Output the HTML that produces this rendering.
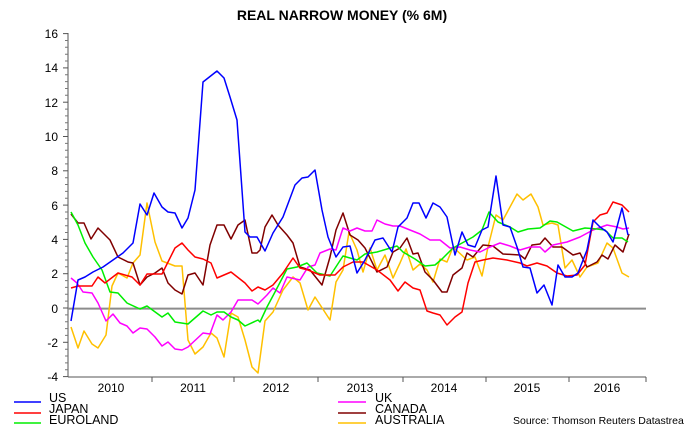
<!DOCTYPE html>
<html><head><meta charset="utf-8"><style>
body{margin:0;background:#fff;}
svg{display:block;font-family:"Liberation Sans",Arial,sans-serif;}
</style></head><body>
<svg width="684" height="430" viewBox="0 0 684 430" xmlns="http://www.w3.org/2000/svg">
<rect width="684" height="430" fill="#fff"/>
<text x="342" y="20" text-anchor="middle" font-size="14" font-weight="bold">REAL NARROW MONEY (% 6M)</text>
<g id="yt" stroke="#555" stroke-width="1"></g>
<line x1="68" y1="33" x2="68" y2="377" stroke="#555"/>
<line x1="68" y1="377" x2="646" y2="377" stroke="#555"/>
<g stroke="#555"><line x1="152" y1="377" x2="152" y2="382"/><line x1="234" y1="377" x2="234" y2="382"/><line x1="318" y1="377" x2="318" y2="382"/><line x1="403" y1="377" x2="403" y2="382"/><line x1="486" y1="377" x2="486" y2="382"/><line x1="569" y1="377" x2="569" y2="382"/><line x1="646" y1="377" x2="646" y2="382"/></g>
<line x1="68" y1="308.6" x2="646" y2="308.6" stroke="#8c8c8c" stroke-width="2"/>
<g font-size="12" text-anchor="end">
<text x="58" y="38">16</text><text x="58" y="72">14</text><text x="58" y="107">12</text><text x="58" y="141">10</text><text x="58" y="175">8</text><text x="58" y="210">6</text><text x="58" y="244">4</text><text x="58" y="278">2</text><text x="58" y="313">0</text><text x="58" y="347">-2</text><text x="58" y="381">-4</text>
</g>
<g font-size="12" text-anchor="middle">
<text x="111" y="392">2010</text><text x="193" y="392">2011</text><text x="276" y="392">2012</text><text x="360" y="392">2013</text><text x="444" y="392">2014</text><text x="527" y="392">2015</text><text x="607" y="392">2016</text>
</g>
<g fill="none" stroke-width="1.5" stroke-linejoin="round">
<polyline stroke="#ffc000" points="71,327 78,348 84,331 92,344 98,348 106,335 112,286 118,273 127,278 133,263 140,255 147,203 155,242 162,261 175,266 182,266 188,340 195,354 203,347 211,333 217,338 224,357 231,313 238,317 245,340 252,367 258,373 265,321 273,312 283,290 293,277 300,283 308,310 315,297 330,320 336,282 343,270 349,232 357,250 363,272 370,248 377,270 385,255 393,278 400,263 406,249 413,270 420,264 427,270 433,282 440,259 447,262 453,247 467,260 475,257 482,276 488,247 496,215 503,220 517,194 523,200 531,194 538,207 543,225 552,223 558,225 565,268 572,260 580,277 587,267 598,263 607,243 613,248 622,273 629,277"/>
<polyline stroke="#800000" points="71,214 78,223 84,223 91,239 98,228 110,240 118,257 128,262 133,263 140,285 147,277 155,273 162,268 168,283 175,290 182,294 188,275 195,273 203,285 210,245 217,225 224,225 231,239 238,225 245,220 252,253 257,253 260,250 265,227 272,215 278,225 287,235 293,243 300,267 310,270 322,285 330,257 336,230 343,213 350,235 358,240 365,248 377,272 387,267 393,252 400,248 407,238 413,254 418,253 425,272 433,280 442,292 447,292 453,275 462,268 467,253 473,257 483,245 493,246 503,254 520,255 525,259 532,245 540,244 545,238 553,247 562,247 573,255 580,253 587,267 597,262 602,255 608,259 615,245 623,252 629,234"/>
<polyline stroke="#ff00ff" points="71,278 77,283 83,292 92,293 98,303 106,321 113,314 120,323 127,326 133,333 140,328 147,329 155,337 162,346 168,342 175,349 182,350 188,347 203,333 210,334 217,315 223,320 231,312 238,300 252,300 258,304 267,295 273,288 280,293 287,277 300,280 308,267 315,265 320,253 330,249 336,250 343,228 350,231 357,228 365,231 372,231 377,220 385,224 393,226 400,226 410,230 420,234 430,240 440,240 450,248 460,247 470,250 480,252 490,247 500,243 510,246 520,250 530,247 540,247 545,252 553,245 567,242 580,237 593,230 607,225 617,227 623,229 629,228"/>
<polyline stroke="#00ee00" points="71,212 78,225 85,243 93,257 102,270 110,292 118,293 127,303 140,309 147,306 162,317 168,313 175,322 188,324 203,311 211,315 217,312 224,312 231,317 238,320 245,326 258,320 260,322 267,307 275,292 287,269 297,267 307,263 317,273 330,276 343,256 357,260 365,254 377,252 397,246 403,252 415,259 425,266 435,265 442,259 453,248 473,237 482,230 489,212 498,222 510,227 518,232 528,229 540,228 550,221 557,222 573,231 585,228 597,229 605,230 613,238 622,238 628,242"/>
<polyline stroke="#ff0000" points="71,288 78,286 92,286 98,277 105,283 118,273 132,277 140,285 147,274 162,274 175,248 182,243 188,250 195,257 203,259 211,263 217,278 231,272 245,283 252,291 258,287 265,290 273,285 283,273 293,258 300,268 308,270 320,275 335,275 343,267 353,262 363,262 377,270 390,280 398,291 405,282 413,288 420,290 427,311 433,313 440,315 447,325 455,317 462,312 468,283 475,262 483,260 493,258 507,260 520,263 527,266 537,263 547,266 557,273 567,276 577,275 585,265 593,222 600,215 607,213 613,202 622,205 629,212"/>
<polyline stroke="#0000ff" points="71,321 78,280 85,277 93,272 103,267 113,260 123,253 133,243 140,204 147,215 154,193 162,207 168,212 175,213 182,228 188,218 195,190 203,82 217,71 224,78 230,97 237,120 245,232 250,237 257,237 265,251 273,233 283,217 295,185 302,178 308,177 315,170 322,210 328,237 336,257 343,247 350,246 357,273 365,260 375,240 383,238 392,252 398,227 407,218 413,203 419,203 426,218 433,203 440,207 447,217 455,255 462,232 468,245 475,247 482,230 488,227 496,176 503,225 510,227 517,247 523,267 530,268 537,293 544,285 552,305 558,265 565,277 572,277 578,273 587,250 593,220 600,227 607,232 613,242 622,208 628,235"/>
</g>
<g stroke-width="1.5">
<line x1="14" y1="402" x2="41" y2="402" stroke="#0000ff"/>
<line x1="14" y1="413" x2="41" y2="413" stroke="#ff0000"/>
<line x1="14" y1="423" x2="41" y2="423" stroke="#00ee00"/>
<line x1="338" y1="402" x2="366" y2="402" stroke="#ff00ff"/>
<line x1="338" y1="413" x2="366" y2="413" stroke="#800000"/>
<line x1="338" y1="423" x2="366" y2="423" stroke="#ffc000"/>
</g>
<g font-size="12.5">
<text x="49" y="402">US</text><text x="49" y="413">JAPAN</text><text x="49" y="424">EUROLAND</text>
<text x="375" y="402">UK</text><text x="375" y="413">CANADA</text><text x="375" y="424">AUSTRALIA</text>
</g>
<text x="513" y="424" font-size="10.5">Source: Thomson Reuters Datastream</text>
<g stroke="#555">
<line x1="63" y1="33.6" x2="68" y2="33.6"/><line x1="63" y1="67.9" x2="68" y2="67.9"/><line x1="63" y1="102.2" x2="68" y2="102.2"/><line x1="63" y1="136.5" x2="68" y2="136.5"/><line x1="63" y1="170.8" x2="68" y2="170.8"/><line x1="63" y1="205.1" x2="68" y2="205.1"/><line x1="63" y1="239.4" x2="68" y2="239.4"/><line x1="63" y1="273.7" x2="68" y2="273.7"/><line x1="63" y1="308" x2="68" y2="308"/><line x1="63" y1="342.3" x2="68" y2="342.3"/><line x1="63" y1="376.6" x2="68" y2="376.6"/>
</g>
<path stroke="#777" stroke-width="1" d="M65 40.5h3M65 47.3h3M65 54.2h3M65 61h3M65 74.8h3M65 81.6h3M65 88.5h3M65 95.3h3M65 109.1h3M65 115.9h3M65 122.8h3M65 129.6h3M65 143.4h3M65 150.2h3M65 157.1h3M65 163.9h3M65 177.7h3M65 184.5h3M65 191.4h3M65 198.2h3M65 212h3M65 218.8h3M65 225.7h3M65 232.5h3M65 246.3h3M65 253.1h3M65 260h3M65 266.8h3M65 280.6h3M65 287.4h3M65 294.3h3M65 301.1h3M65 314.9h3M65 321.7h3M65 328.6h3M65 335.4h3M65 349.2h3M65 356h3M65 362.9h3M65 369.7h3"/>
</svg>
</body></html>
